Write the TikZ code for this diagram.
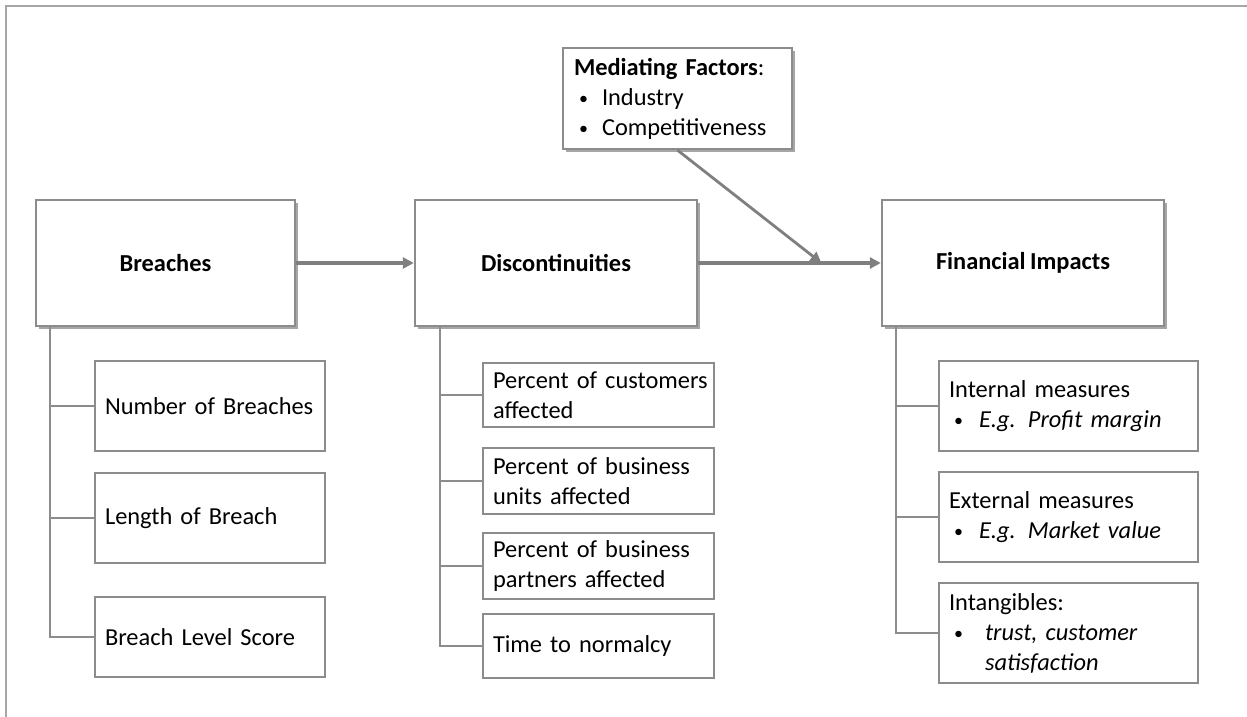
\documentclass[tikz,border=0pt]{standalone}
\usepackage{fontspec}
\setmainfont{Carlito}[WordSpace=0.8]
\usetikzlibrary{arrows.meta,shadows,calc}

\definecolor{boxgray}{HTML}{8C8C8C}
\definecolor{arrgray}{HTML}{7F7F7F}
\definecolor{framegray}{HTML}{A6A6A6}

% bullet item: dot near the left edge, text pushed in by #1
\newcommand{\bul}[1]{\makebox[0pt][l]{\hspace*{2.5pt}\raisebox{0.5pt}{\fontsize{9}{9}\selectfont\textbullet}}\hspace*{#1}}

\begin{document}
\begin{tikzpicture}[
  x=0.5pt, y=-0.5pt,
  font=\fontsize{12.2}{15}\selectfont,
  shade/.style={drop shadow={shadow xshift=1.6pt, shadow yshift=-1.6pt,
                opacity=0.35, fill=black}},
  head/.style={draw=boxgray, line width=1.2pt, fill=white, shade,
               font=\fontsize{12.2}{15}\selectfont\bfseries, minimum height=63pt},
  note/.style={draw=boxgray, line width=1.2pt, fill=white, shade, align=left,
               text width=103.5pt, inner xsep=5.5pt, minimum height=50.5pt},
  leaf/.style={draw=boxgray, line width=1.1pt, fill=white, align=left,
               inner xsep=5pt, inner ysep=0pt},
  bleaf/.style={leaf, text width=105pt},
  dleaf/.style={leaf, text width=105.5pt},
  fleaf/.style={leaf, text width=119.5pt},
  tree/.style={draw=boxgray, line width=1pt},
  arr/.style={-{Triangle[length=5.5pt, width=5.5pt]}, draw=arrgray, line width=1.7pt},
]
\useasboundingbox (0,0) rectangle (1247,717);
\draw[framegray, line width=1pt] (6,717) -- (6,6) -- (1247,6);

% top row
\node[head, minimum width=129.5pt] (brch) at (165.5,263) {Breaches};
\node[head, minimum width=141pt] (disc) at (556,263) {Discontinuities};
\node[head, minimum width=141pt] (fin) at (1023,263) {Financial Impacts};
\node[note] (med) at (677.5,98.5) {\textbf{Mediating Factors}:\\
  \bul{14pt}Industry\\
  \bul{14pt}Competitiveness};

% breaches
\node[bleaf, minimum height=45pt] (nob) at (210,406) {Number of Breaches};
\node[bleaf, minimum height=45pt] (lob) at (210,518) {Length of Breach};
\node[bleaf, minimum height=40pt] (bls) at (210,637) {Breach Level Score};

% discontinuities
\node[dleaf, minimum height=32pt] (pca) at (598.5,395) {\mbox{Percent of customers}\\affected};
\node[dleaf, minimum height=33pt] (pua) at (598.5,481) {Percent of business\\units affected};
\node[dleaf, minimum height=33pt] (ppa) at (598.5,566) {Percent of business\\partners affected};
\node[dleaf, minimum height=32pt] (ttn) at (598.5,646) {Time to normalcy};

% financial impacts
\node[fleaf, minimum height=45pt] (int) at (1068.5,406) {Internal measures\\
  \bul{15pt}\textit{E.g. Profit margin}};
\node[fleaf, minimum height=45pt] (ext) at (1068.5,517) {External measures\\
  \bul{15pt}\textit{E.g. Market value}};
\node[fleaf, minimum height=50pt] (itg) at (1068.5,633) {Intangibles:\\
  \bul{18pt}\textit{trust, customer}\\
  \hspace*{18pt}\textit{satisfaction}};

\foreach \s in {nob,lob,bls} \draw[tree] ([xshift=7.5pt]brch.south west) |- (\s.west);
\foreach \s in {pca,pua,ppa,ttn} \draw[tree] ([xshift=13pt]disc.south west) |- (\s.west);
\foreach \s in {int,ext,itg} \draw[tree] ([xshift=7.5pt]fin.south west) |- (\s.west);

\draw[arr] (brch) -- (disc);
\draw[arr] (disc) -- (fin);
\coordinate (join) at ($(disc.east)!0.675!(fin.west)$);
\draw[arr, line width=1.4pt] (med.south) -- (join);
\end{tikzpicture}
\end{document}
